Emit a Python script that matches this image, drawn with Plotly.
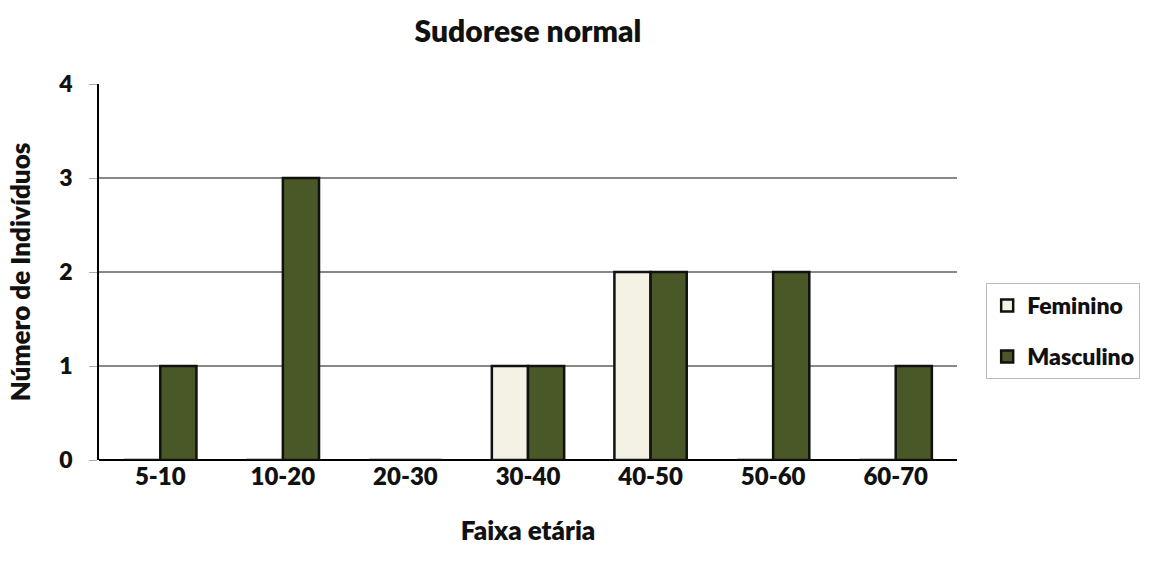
import plotly.graph_objects as go

categories = ["5-10", "10-20", "20-30", "30-40", "40-50", "50-60", "60-70"]
feminino = [0, 0, 0, 1, 2, 0, 0]
masculino = [1, 3, 0, 1, 2, 2, 1]
y_ticks = [0, 1, 2, 3, 4]

FONT = "Lato, Carlito, Calibri, sans-serif"
W = 800

fig = go.Figure()
fig.add_trace(go.Bar(
    name="Feminino", x=categories, y=feminino, legendgroup="f",
    marker=dict(color="#f4f2e4", line=dict(color="#111111", width=2.5)),
))
fig.add_trace(go.Bar(
    name="Masculino", x=categories, y=masculino, legendgroup="m",
    marker=dict(color="#4a5827", line=dict(color="#111111", width=2.5)),
))

fig.update_layout(
    width=1157, height=570,
    margin=dict(l=99, r=200, t=84, b=110),
    paper_bgcolor="white", plot_bgcolor="white",
    barmode="group", bargap=0.41, bargroupgap=0,
    font=dict(family=FONT, color="#111111", size=24, weight=W),
    title=dict(text="Sudorese normal", x=0.5, xref="paper", xanchor="center",
               y=1 - 31 / 570, yanchor="middle",
               font=dict(size=30, family=FONT, weight=W)),
    legend=dict(x=1.034, y=0.343, xanchor="left", yanchor="middle",
                bordercolor="#bbbbbb", borderwidth=1, bgcolor="white",
                font=dict(size=23, family=FONT, weight=W),
                itemwidth=30, tracegroupgap=18, traceorder="grouped"),
    showlegend=True,
)

fig.update_xaxes(
    showline=False, showgrid=False, ticks="",
    tickfont=dict(size=24, family=FONT, weight=W),
    title=dict(text="Faixa etária", standoff=32,
               font=dict(size=26, family=FONT, weight=W)),
)
fig.update_yaxes(
    range=[0, 4], tickvals=y_ticks,
    showline=True, linecolor="#000000", linewidth=1.5,
    showgrid=True, gridcolor="#888888", gridwidth=1.8,
    zeroline=True, zerolinecolor="#000000", zerolinewidth=1.5,
    ticks="outside", ticklen=8, tickcolor="#aaaaaa", tickwidth=1,
    ticklabelstandoff=12,
    tickfont=dict(size=23, family=FONT, weight=W),
    title=dict(text="Número de Indivíduos", standoff=20,
               font=dict(size=26, family=FONT, weight=W)),
)

fig.write_html("out.html")
